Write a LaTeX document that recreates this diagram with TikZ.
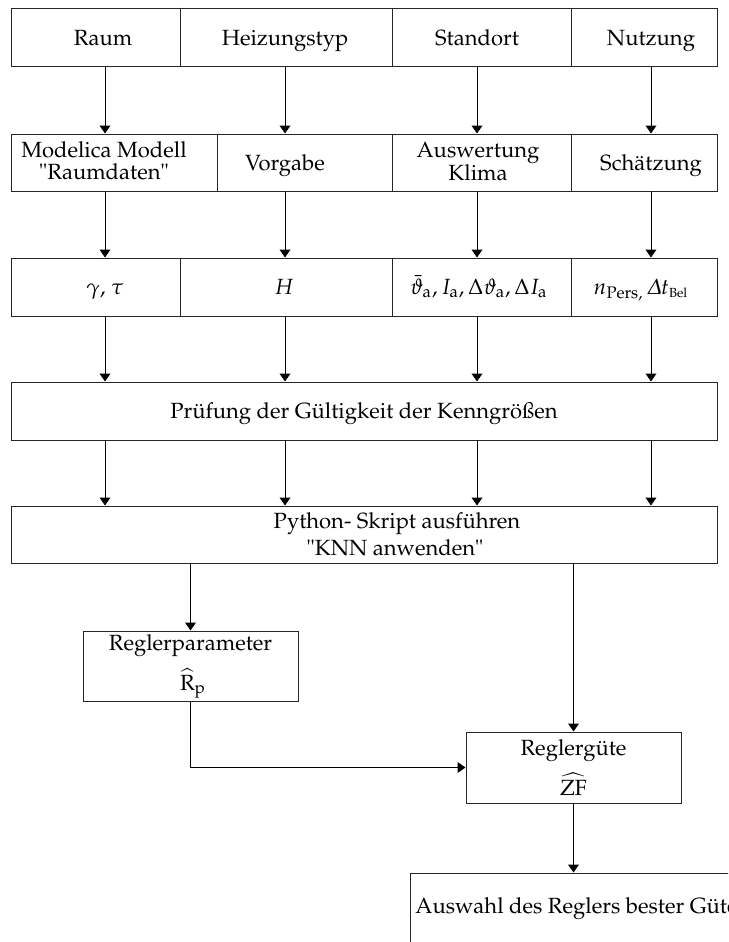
\documentclass[tikz,border=0pt]{standalone}
\usepackage[T1]{fontenc}
\usepackage{mathpazo}
\usetikzlibrary{arrows.meta}
\begin{document}
\begin{tikzpicture}[x=0.5pt,y=-0.5pt,
  box/.style={draw=black!85,line width=0.5pt,rectangle,inner sep=0pt,anchor=center},
  txt/.style={inner sep=0pt,anchor=base,font=\fontsize{11}{13.5}\selectfont},
  arr/.style={draw=black,line width=0.5pt,-{Triangle[length=4pt,width=5.4pt]}},
  divl/.style={draw=black!85,line width=0.5pt}]
\path[use as bounding box,clip] (0,0) rectangle (728,942);
\fill[white] (0,0) rectangle (728,942);
% boxes
\node[box,minimum width=353pt,minimum height=29pt] (row1) at (364,37) {};
\node[box,minimum width=353pt,minimum height=28.5pt] (row2) at (364,162.5) {};
\node[box,minimum width=353pt,minimum height=29pt] (row3) at (364,287) {};
\node[box,minimum width=353pt,minimum height=29pt] (pruef) at (364,411) {};
\node[box,minimum width=353pt,minimum height=28.5pt] (python) at (364,534.5) {};
\node[box,minimum width=107.5pt,minimum height=35pt] (rp) at (190.5,666) {};
\node[box,minimum width=107.5pt,minimum height=35.5pt] (rg) at (573.5,767.5) {};
\node[box,minimum width=170pt,minimum height=43.5pt] (auswahl) at (580,916.5) {};
% divider and column coordinates
\coordinate (dA) at (180,0);
\coordinate (dA2) at (217,0);
\coordinate (dB) at (392,0);
\coordinate (dC) at (571,0);
\coordinate (c1) at (105,0);
\coordinate (c2) at (285,0);
\coordinate (c3) at (477,0);
\coordinate (c4) at (651,0);
\foreach \d in {dA,dB,dC} {
  \draw[divl] (\d |- row1.north) -- (\d |- row1.south);
  \draw[divl] (\d |- row3.north) -- (\d |- row3.south);
}
\foreach \d in {dA2,dB,dC} {
  \draw[divl] (\d |- row2.north) -- (\d |- row2.south);
}
% texts row 1
\node[txt] (t11) at (103,45) {Raum};
\node[txt] (t12) at (285,45) {Heizungstyp};
\node[txt] (t13) at (477,45) {Standort};
\node[txt] (t14) at (651,45) {Nutzung};
% texts row 2
\node[txt] (t21a) at (104,157) {Modelica Modell};
\node[txt] (t21b) at (104,179) {\textquotedbl Raumdaten\textquotedbl};
\node[txt] (t22) at (285,170) {Vorgabe};
\node[txt] (t23a) at (478,157) {Auswertung};
\node[txt] (t23b) at (478,180) {Klima};
\node[txt] (t24) at (651,170) {Sch\"atzung};
% texts row 3
\node[txt] (t31) at (105,294) {$\gamma$, $\tau$};
\node[txt] (t32) at (284,294) {$H$};
\node[txt] (t33) at (479,294) {$\bar{\vartheta}_\mathrm{a}, I_\mathrm{a}, \Delta\vartheta_\mathrm{a}, \Delta I_\mathrm{a}$};
\node[txt] (t34) at (641,294) {$n_{\mathrm{Pers},}\,\mathchar"0101 t_{\scriptscriptstyle\mathrm{Bel}}$};
% other texts
\node[txt] (tpruef) at (364,418) {Pr\"ufung der G\"ultigkeit der Kenngr\"o\ss en};
\node[txt] (tpy1) at (397,528) {Python- Skript ausf\"uhren};
\node[txt] (tpy2) at (395,555) {\textquotedbl KNN anwenden\textquotedbl};
\node[txt] (trp1) at (190.5,650) {Reglerparameter};
\node[txt] (trp2) at (193,690) {$\widehat{\mathrm{R}}_\mathrm{p}$};
\node[txt] (trg1) at (573.5,755) {Reglerg\"ute};
\node[txt] (trg2) at (573.5,795) {$\widehat{\mathrm{ZF}}$};
\node[txt,anchor=base west] (taus) at (415,913) {Auswahl des Reglers bester G\"ute};
% arrows
\foreach \c in {c1,c2,c3,c4} {
  \draw[arr] (\c |- row1.south) -- (\c |- row2.north);
  \draw[arr] (\c |- row2.south) -- (\c |- row3.north);
  \draw[arr] (\c |- row3.south) -- (\c |- pruef.north);
  \draw[arr] (\c |- pruef.south) -- (\c |- python.north);
}
\draw[arr] (rp.north |- python.south) -- (rp.north);
\draw[arr] (rg.north |- python.south) -- (rg.north);
\draw[arr] (rp.south) |- (rg.west);
\draw[arr] (rg.south) -- (rg.south |- auswahl.north);
\end{tikzpicture}
\end{document}
